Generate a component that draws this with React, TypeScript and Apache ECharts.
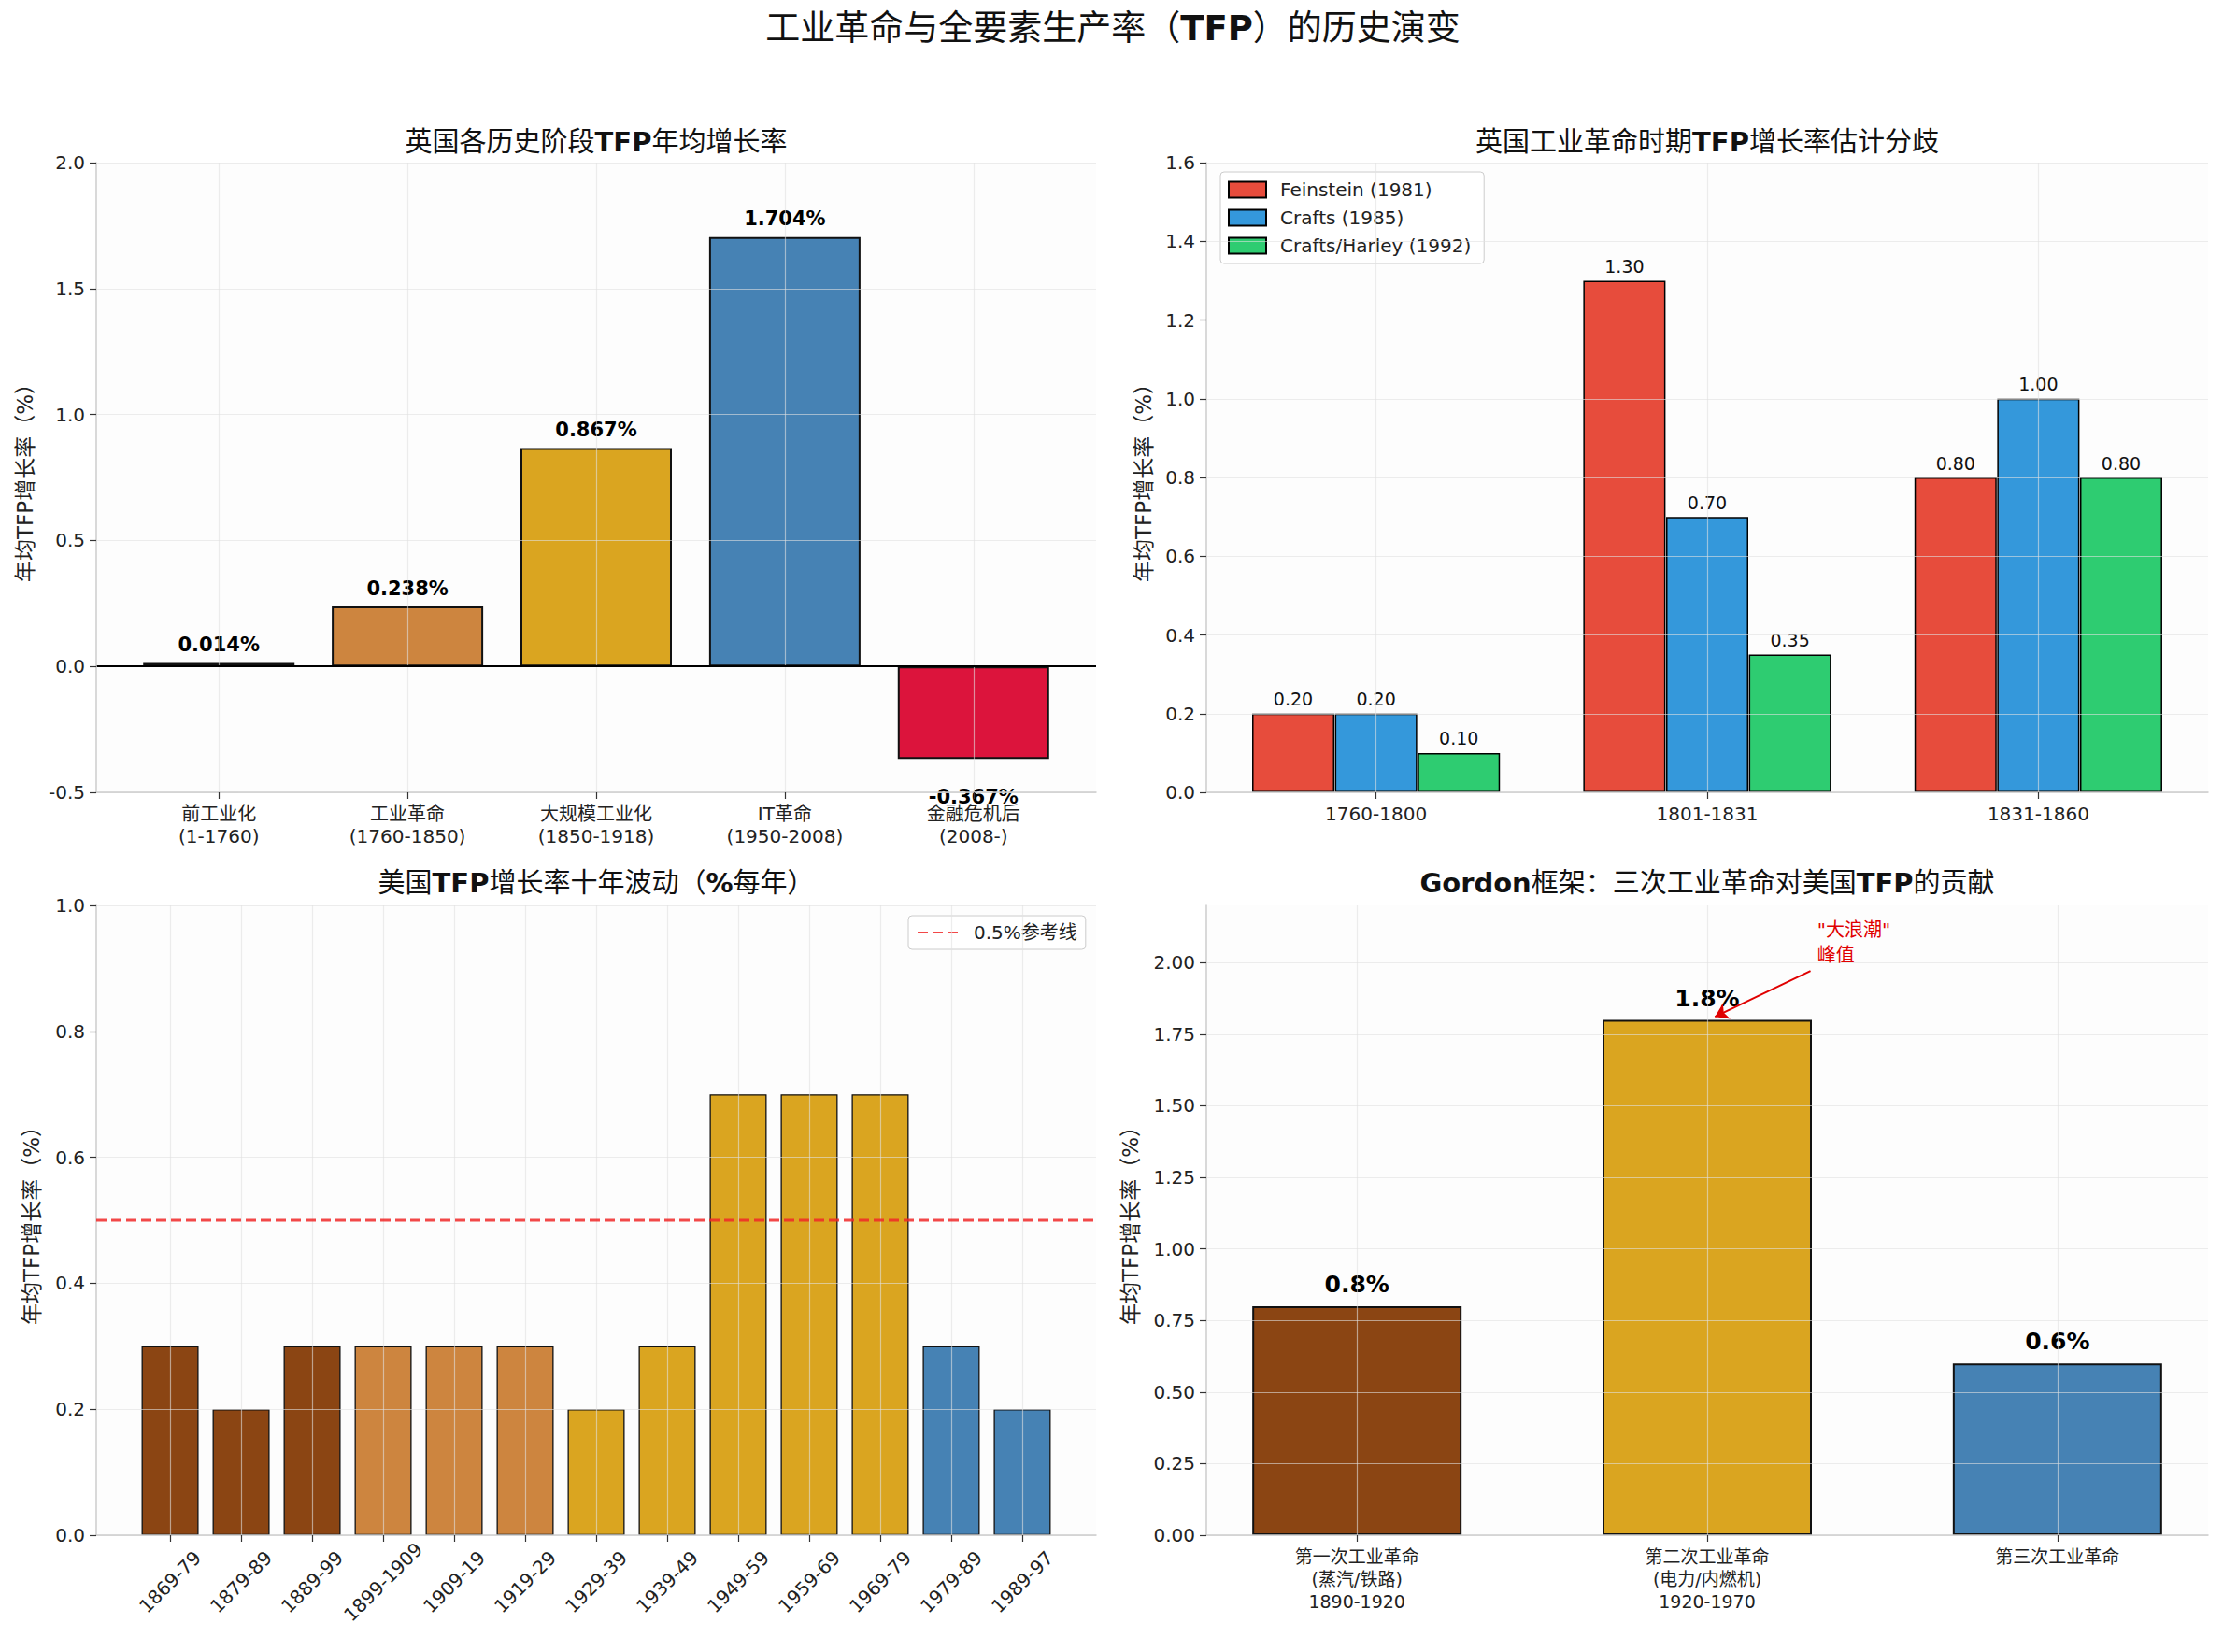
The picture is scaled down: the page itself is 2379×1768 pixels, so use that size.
import React, { useEffect, useRef } from 'react';
import * as echarts from 'echarts';

const FONT = "'DejaVu Sans', 'Noto Sans CJK SC', sans-serif";
const LATIN = "'DejaVu Sans', sans-serif";

// ---------- Chart 1: UK TFP by historical stage ----------
const ukStages = ['前工业化\n(1-1760)', '工业革命\n(1760-1850)', '大规模工业化\n(1850-1918)', 'IT革命\n(1950-2008)', '金融危机后\n(2008-)'];
const ukTfp = [0.014, 0.238, 0.867, 1.704, -0.367];
const ukColors = ['#8B4513', '#CD853F', '#DAA520', '#4682B4', '#DC143C'];

// ---------- Chart 2: estimates ----------
const estPeriods = ['1760-1800', '1801-1831', '1831-1860'];
const estNames = ['Feinstein (1981)', 'Crafts (1985)', 'Crafts/Harley (1992)'];
const feinstein = [0.2, 1.3, 0.8];
const crafts = [0.2, 0.7, 1.0];
const craftsHarley = [0.1, 0.35, 0.8];
const estColors = ['#e74c3c', '#3498db', '#2ecc71'];

// ---------- Chart 3: US decades ----------
const usDecades = ['1869-79', '1879-89', '1889-99', '1899-1909', '1909-19', '1919-29', '1929-39', '1939-49', '1949-59', '1959-69', '1969-79', '1979-89', '1989-97'];
const usTfp = [0.3, 0.2, 0.3, 0.3, 0.3, 0.3, 0.2, 0.3, 0.7, 0.7, 0.7, 0.3, 0.2];
const usColors = ['#8B4513', '#8B4513', '#8B4513', '#CD853F', '#CD853F', '#CD853F', '#DAA520', '#DAA520', '#DAA520', '#DAA520', '#DAA520', '#4682B4', '#4682B4'];
const refLevel = 0.5;
const refName = '0.5%参考线';

// ---------- Chart 4: Gordon ----------
const gordonEras = ['第一次工业革命\n(蒸汽/铁路)\n1890-1920', '第二次工业革命\n(电力/内燃机)\n1920-1970', '第三次工业革命'];
const gordonTfp = [0.8, 1.8, 0.6];
const gordonColors = ['#8B4513', '#DAA520', '#4682B4'];
const gordonTicks = [0, 0.25, 0.5, 0.75, 1.0, 1.25, 1.5, 1.75, 2.0];

const GRID_LINE = 'rgba(225,225,225,0.6)';
const SPINE = '#cccccc';
const YNAME = '年均TFP增长率（%）';

function xAxisFor(gridIndex: number, min: number, max: number, labels: string[], extra: any = {}) {
  const idx = labels.map((_, i) => i);
  return {
    type: 'value', gridIndex, min, max, z: 5,
    axisLine: { show: true, onZero: false, lineStyle: { color: SPINE, width: 1.5 } },
    axisTick: { show: true, customValues: idx, length: 7, lineStyle: { color: '#333', width: 1.2 } },
    axisLabel: {
      customValues: idx,
      formatter: (v: number) => labels[Math.round(v)] ?? '',
      fontSize: 20, color: '#222', fontFamily: FONT, lineHeight: 24, margin: 11,
      ...extra,
    },
    splitLine: { show: true, lineStyle: { color: GRID_LINE, width: 1.2 } },
  };
}

function yAxisFor(gridIndex: number, min: number, max: number, decimals: number, nameGap: number, extra: any = {}) {
  return {
    type: 'value', gridIndex, min, max, z: 5,
    name: YNAME, nameLocation: 'middle', nameRotate: 90, nameGap,
    nameTextStyle: { fontSize: 23, color: '#222', fontFamily: FONT },
    axisLine: { show: true, onZero: false, lineStyle: { color: SPINE, width: 1.5 } },
    axisTick: { show: true, length: 7, lineStyle: { color: '#333', width: 1.2 }, ...(extra.tick || {}) },
    axisLabel: { formatter: (v: number) => v.toFixed(decimals), fontSize: 20, color: '#222', fontFamily: LATIN, margin: 12, ...(extra.label || {}) },
    splitLine: { show: true, lineStyle: { color: GRID_LINE, width: 1.2 } },
    ...(extra.axis || {}),
  };
}

function titleText(x: number, y: number, text: string, size: number) {
  return {
    type: 'text', x, y, z: 10,
    style: {
      text, fontSize: size, fontFamily: FONT, fill: '#111', align: 'center', verticalAlign: 'middle',
      rich: { b: { fontWeight: 'bold', fontFamily: LATIN, fontSize: size, fill: '#111' } },
    },
  };
}

export default function App() {
  const ref = useRef<HTMLDivElement>(null);
  useEffect(() => {
    if (!ref.current) return;
    const chart = echarts.init(ref.current, null, { renderer: 'svg' });
    const grids = [
      { left: 103, top: 174, width: 1070, height: 674 },
      { left: 1291, top: 174, width: 1072, height: 674 },
      { left: 103, top: 969, width: 1070, height: 674 },
      { left: 1291, top: 969, width: 1072, height: 674 },
    ].map((g) => ({ ...g, show: true, backgroundColor: '#fdfdfd', borderWidth: 0 }));

    const estSeries = [feinstein, crafts, craftsHarley].map((arr, k) => ({
      type: 'bar', name: estNames[k], xAxisIndex: 1, yAxisIndex: 1,
      barWidth: 88, barGap: '-100%',
      data: arr.map((v, i) => [i + (k - 1) * 0.25, v]),
      itemStyle: { color: estColors[k], borderColor: '#000', borderWidth: 1.5 },
      label: {
        show: true, position: 'top', distance: 6, fontSize: 19, color: '#111', fontFamily: LATIN,
        formatter: (p: any) => p.value[1].toFixed(2),
      },
    }));

    const option: any = {
      animation: false,
      backgroundColor: '#ffffff',
      textStyle: { fontFamily: FONT },
      grid: grids,
      xAxis: [
        xAxisFor(0, -0.65, 4.65, ukStages),
        xAxisFor(1, -0.5125, 2.5125, estPeriods),
        xAxisFor(2, -1.04, 13.04, usDecades, { rotate: 45, align: 'center', verticalAlign: 'middle', margin: 50, fontFamily: LATIN }),
        xAxisFor(3, -0.43, 2.43, gordonEras, { fontSize: 19 }),
      ],
      yAxis: [
        yAxisFor(0, -0.5, 2.0, 1, 65, { axis: { interval: 0.5 } }),
        yAxisFor(1, 0, 1.6, 1, 56, { axis: { interval: 0.2 } }),
        yAxisFor(2, 0, 1.0, 1, 58, { axis: { interval: 0.2 } }),
        yAxisFor(3, 0, 2.2, 2, 70, { tick: { customValues: gordonTicks }, label: { customValues: gordonTicks } }),
      ],
      legend: [
        {
          data: estNames, orient: 'vertical', left: 1306, top: 184,
          itemWidth: 40, itemHeight: 17, itemGap: 10, icon: 'rect',
          textStyle: { fontSize: 20, color: '#222', fontFamily: LATIN, padding: [0, 0, 0, 10] },
          borderColor: '#cccccc', borderWidth: 1, borderRadius: 4,
          backgroundColor: 'rgba(255,255,255,0.85)', padding: [9, 14, 9, 8],
        },
        {
          data: [refName], left: 972, top: 980,
          itemWidth: 44, itemHeight: 14,
          itemStyle: { opacity: 0 },
          textStyle: { fontSize: 20, color: '#222', fontFamily: FONT, padding: [0, 0, 0, 11] },
          borderColor: '#cccccc', borderWidth: 1, borderRadius: 4,
          backgroundColor: 'rgba(255,255,255,0.85)', padding: [8, 9, 8, 9],
        },
      ],
      series: [
        {
          type: 'bar', xAxisIndex: 0, yAxisIndex: 0, barWidth: 162,
          data: ukTfp.map((v, i) => ({
            value: [i, v],
            itemStyle: { color: ukColors[i] },
            label: v < 0 ? { position: 'bottom', distance: 30 } : undefined,
          })),
          itemStyle: { borderColor: '#111', borderWidth: 2 },
          label: {
            show: true, position: 'top', distance: 9, fontSize: 21, fontWeight: 'bold', color: '#000', fontFamily: LATIN,
            formatter: (p: any) => p.value[1].toFixed(3) + '%',
          },
          markLine: {
            silent: true, symbol: 'none', label: { show: false },
            lineStyle: { color: '#000', width: 2, type: 'solid' },
            data: [{ yAxis: 0 }],
          },
        },
        ...estSeries,
        {
          type: 'bar', xAxisIndex: 2, yAxisIndex: 2, barWidth: 61,
          data: usTfp.map((v, i) => ({ value: [i, v], itemStyle: { color: usColors[i] } })),
          itemStyle: { borderColor: '#111', borderWidth: 1.3 },
        },
        {
          type: 'line', name: refName, xAxisIndex: 2, yAxisIndex: 2, z: 6,
          data: [[-1.04, refLevel], [13.04, refLevel]],
          symbol: 'none',
          lineStyle: { color: 'rgba(240,40,40,0.85)', width: 3, type: [11, 5] },
          itemStyle: { color: 'rgba(240,40,40,0.85)' },
        },
        {
          type: 'bar', xAxisIndex: 3, yAxisIndex: 3, barWidth: 224,
          data: gordonTfp.map((v, i) => ({ value: [i, v], itemStyle: { color: gordonColors[i] } })),
          itemStyle: { borderColor: '#111', borderWidth: 2 },
          label: {
            show: true, position: 'top', distance: 11, fontSize: 25, fontWeight: 'bold', color: '#000', fontFamily: LATIN,
            formatter: (p: any) => p.value[1].toFixed(1) + '%',
          },
          markLine: {
            silent: true, symbol: ['none', 'arrow'], symbolSize: 14, label: { show: false },
            lineStyle: { color: '#e00000', width: 2, type: 'solid' },
            data: [[{ coord: [1.295, 1.971] }, { coord: [1.022, 1.811] }]],
          },
          markPoint: {
            silent: true,
            data: [{
              coord: [1.313, 2.071], symbol: 'circle', symbolSize: 1,
              itemStyle: { color: 'rgba(0,0,0,0)' },
              label: {
                show: true, position: 'right', distance: 0, formatter: '"大浪潮"\n峰值',
                color: '#e00000', fontSize: 20, lineHeight: 27, align: 'left', fontFamily: FONT,
              },
            }],
          },
        },
      ],
      graphic: [
        titleText(1191, 30, '工业革命与全要素生产率（{b|TFP}）的历史演变', 37),
        titleText(638, 152, '英国各历史阶段{b|TFP}年均增长率', 29),
        titleText(1827, 152, '英国工业革命时期{b|TFP}增长率估计分歧', 29),
        titleText(638, 945, '美国{b|TFP}增长率十年波动（{b|%}每年）', 29),
        titleText(1827, 945, '{b|Gordon}框架：三次工业革命对美国{b|TFP}的贡献', 29),
      ],
    };
    chart.setOption(option);
    return () => chart.dispose();
  }, []);
  return (
    <div
      ref={ref}
      style={{ position: 'fixed', left: 0, top: 0, width: 2379, height: 1768, background: '#fff' }}
    />
  );
}
